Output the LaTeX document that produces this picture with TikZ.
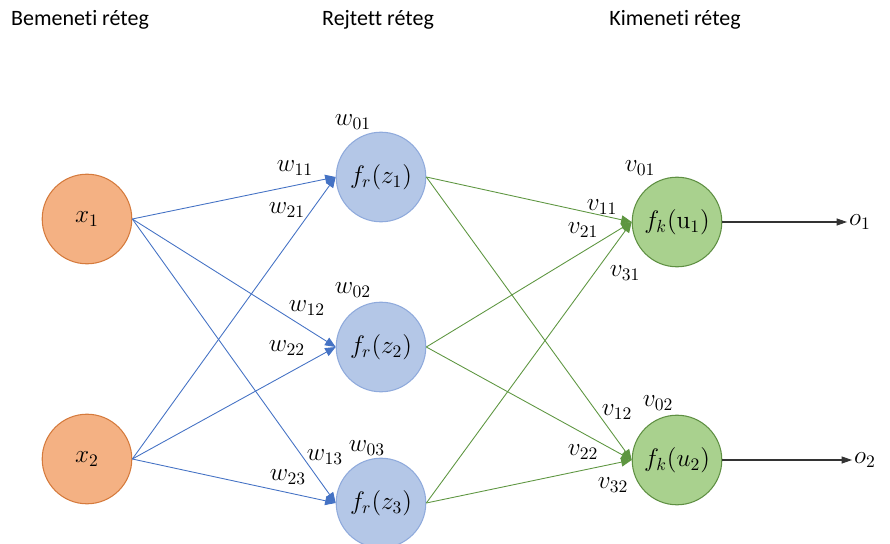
\documentclass[tikz,border=0pt]{standalone}
\usepackage[no-math]{fontspec}
\setmainfont[Ligatures=NoCommon]{Carlito}
\usetikzlibrary{arrows.meta}

\definecolor{inpfill}{HTML}{F4B183}
\definecolor{inpdraw}{HTML}{D57A3C}
\definecolor{hidfill}{HTML}{B4C7E7}
\definecolor{hiddraw}{HTML}{8FAADC}
\definecolor{outfill}{HTML}{A9D18E}
\definecolor{outdraw}{HTML}{5E8F42}
\definecolor{wcol}{HTML}{4472C4}
\definecolor{vcol}{HTML}{5E9641}

\tikzset{
  neuron/.style={circle, minimum size=51pt, inner sep=0pt, line width=0.6pt, font=\Large},
  inp/.style={neuron, draw=inpdraw, fill=inpfill},
  hid/.style={neuron, draw=hiddraw, fill=hidfill},
  outp/.style={neuron, draw=outdraw, fill=outfill},
  wlink/.style={draw=wcol, line width=0.5pt, -{Triangle[length=6pt,width=5pt]}},
  vlink/.style={draw=vcol, line width=0.5pt, -{Triangle[length=6pt,width=5pt]}},
  olink/.style={draw=black!80, line width=0.6pt, -{Triangle[length=6pt,width=4pt]}},
  wt/.style={font=\Large, inner sep=1pt},
  layertitle/.style={font=\fontsize{12.5}{14}\selectfont}
}

\begin{document}
\begin{tikzpicture}[x=0.02cm, y=-0.02cm]
  \useasboundingbox (0,0) rectangle (890,544);

  \node[layertitle] (tin) at (80,20) {Bemeneti réteg};
  \node[layertitle] (thid) at (378,20) {Rejtett réteg};
  \node[layertitle] (tout) at (675,20) {Kimeneti réteg};

  \node[inp] (x1) at (87,219) {$x_1$};
  \node[inp] (x2) at (87,459) {$x_2$};

  \node[hid] (h1) at (381,177) {$f_r(z_1)$};
  \node[hid] (h2) at (381,347) {$f_r(z_2)$};
  \node[hid] (h3) at (381,503) {$f_r(z_3)$};

  \node[outp] (y1) at (677,222) {$f_k(\mathrm{u}_1)$};
  \node[outp] (y2) at (677,460) {$f_k(u_2)$};

  \node[wt] (o1) at (860,222) {$o_1$};
  \node[wt] (o2) at (865,460) {$o_2$};

  \foreach \i in {1,2}
    \foreach \j in {1,2,3}
      \draw[wlink] (x\i.east) -- (h\j.west);
  \foreach \j in {1,2,3}
    \foreach \k in {1,2}
      \draw[vlink] (h\j.east) -- (y\k.west);

  \draw[olink] (y1.east) -- (o1.west);
  \draw[olink] (y2.east) -- (o2.west);

  \foreach \n/\x/\y in {01/353/122, 11/295/168, 21/287/210, 02/353/290, 12/307/308,
                        22/287/348, 03/367/448, 13/325/457, 23/288/477}
    \node[wt] (w\n) at (\x,\y) {$w_{\n}$};
  \foreach \n/\x/\y in {01/640/168, 11/602/207, 21/583/230, 31/625/273, 02/658/403,
                        12/617/412, 22/583/452, 32/613/485}
    \node[wt] (v\n) at (\x,\y) {$v_{\n}$};
\end{tikzpicture}
\end{document}
